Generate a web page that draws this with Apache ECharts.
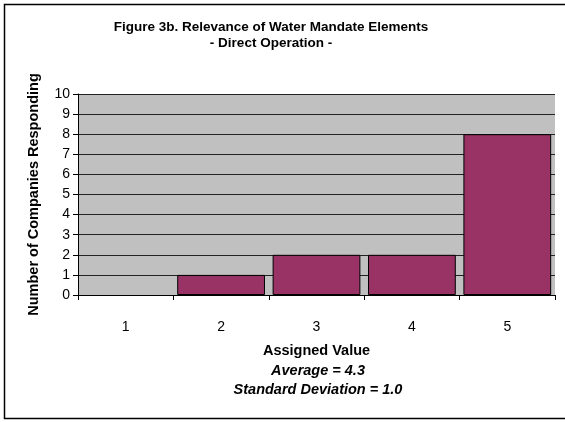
<!DOCTYPE html>
<html>
<head>
<meta charset="utf-8">
<script src="https://cdn.jsdelivr.net/npm/echarts@6/dist/echarts.min.js"></script>
<style>
    html, body { margin: 0; padding: 0; background: #fff; }
    #chart { width: 565px; height: 422px; }
</style>
</head>
<body>
<div id="chart"></div>
<script>
const categories = ['1', '2', '3', '4', '5'];
const responses = [0, 1, 2, 2, 8];
const titleLines = ['Figure 3b. Relevance of Water Mandate Elements', '- Direct Operation -'];
const statLines = ['Average = 4.3', 'Standard Deviation = 1.0'];

const font = 'Arial, "Liberation Sans", sans-serif';

const chart = echarts.init(document.getElementById('chart'));

// an empty bar would still leave its border on the axis
const barData = responses.map((v) => (v === 0 ? { value: v, itemStyle: { borderWidth: 0 } } : v));

chart.setOption({
    animation: false,
    textStyle: { fontFamily: font },
    graphic: [
        {
            type: 'rect',
            shape: { x: 4.5, y: 4.5, width: 600, height: 414 },
            style: { fill: 'none', stroke: '#000', lineWidth: 1.5 },
        },
    ],
    title: [
        {
            text: titleLines.join('\n'),
            left: 266,
            top: 14,
            textAlign: 'center',
            textStyle: { fontSize: 13.5, fontWeight: 'bold', color: '#000', lineHeight: 16, fontFamily: font },
        },
        {
            text: statLines.join('\n'),
            left: 313,
            top: 356,
            textAlign: 'center',
            textStyle: { fontSize: 14.5, fontWeight: 'bold', fontStyle: 'italic', color: '#000', lineHeight: 19, fontFamily: font },
        },
    ],
    grid: {
        left: 78,
        right: 10,
        top: 94,
        bottom: 127,
        show: true,
        backgroundColor: '#c0c0c0',
        borderWidth: 0,
    },
    xAxis: {
        type: 'category',
        data: categories,
        name: 'Assigned Value',
        nameLocation: 'middle',
        nameGap: 48,
        nameTextStyle: { fontSize: 14.5, fontWeight: 'bold', color: '#000' },
        axisLine: { lineStyle: { color: '#000', width: 1 } },
        axisTick: { show: true, length: 5, lineStyle: { color: '#000' } },
        axisLabel: { fontSize: 14, color: '#000', margin: 25 },
    },
    yAxis: {
        type: 'value',
        min: 0,
        max: 10,
        interval: 1,
        name: 'Number of Companies Responding',
        nameLocation: 'middle',
        nameGap: 37,
        nameTextStyle: { fontSize: 14.5, fontWeight: 'bold', color: '#000' },
        axisLine: { show: true, lineStyle: { color: '#000', width: 1 } },
        axisTick: { show: true, length: 5, lineStyle: { color: '#000' } },
        axisLabel: { fontSize: 14, color: '#000', margin: 8 },
        splitLine: { show: true, lineStyle: { color: '#222', width: 1 } },
    },
    series: [
        {
            type: 'bar',
            data: barData,
            barCategoryGap: '8%',
            itemStyle: { color: '#993366', borderColor: '#000', borderWidth: 1 },
        },
    ],
});
</script>
</body>
</html>
